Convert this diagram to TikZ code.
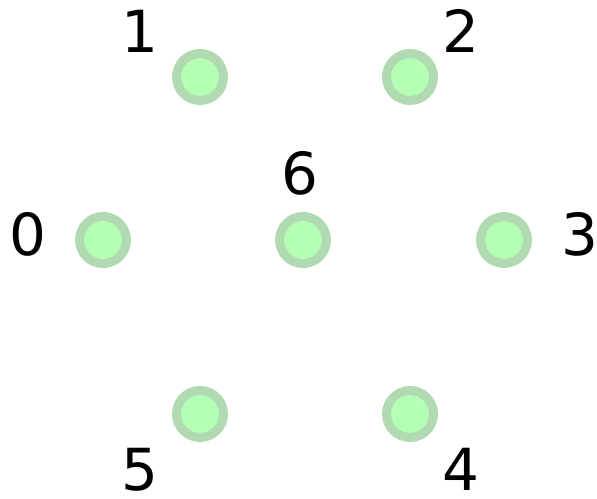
\documentclass[tikz,border=0pt]{standalone}
\usepackage{fontspec}
\setmainfont{DejaVu Sans}
\usetikzlibrary{positioning}
\definecolor{vfill}{RGB}{179,255,179}
\definecolor{vring}{RGB}{178,218,178}

\begin{document}
\begin{tikzpicture}[x=1pt, y=-1pt,%
  vertex/.style={circle, fill=vfill, draw=vring, line width=9pt, minimum size=47pt, inner sep=0pt},%
  vlabel/.style={font=\fontsize{58}{62}\selectfont, inner sep=0pt, text depth=0pt, text=black}%
]
  \useasboundingbox (0,0) rectangle (597,498);
  \node[vertex] (n0) at (103,240) {};
  \node[vertex] (n1) at (200,77) {};
  \node[vertex] (n2) at (410,77) {};
  \node[vertex] (n3) at (504,240) {};
  \node[vertex] (n4) at (410,414) {};
  \node[vertex] (n5) at (200,414) {};
  \node[vertex] (n6) at (303,240) {};
  \node[vlabel] (l0) at (28,234) {0};
  \node[vlabel] (l1) at (140,31) {1};
  \node[vlabel] (l2) at (461,31) {2};
  \node[vlabel] (l3) at (580,234) {3};
  \node[vlabel] (l4) at (461,469) {4};
  \node[vlabel] (l5) at (140,469) {5};
  \node[vlabel] (l6) at (300,173) {6};
\end{tikzpicture}
\end{document}
